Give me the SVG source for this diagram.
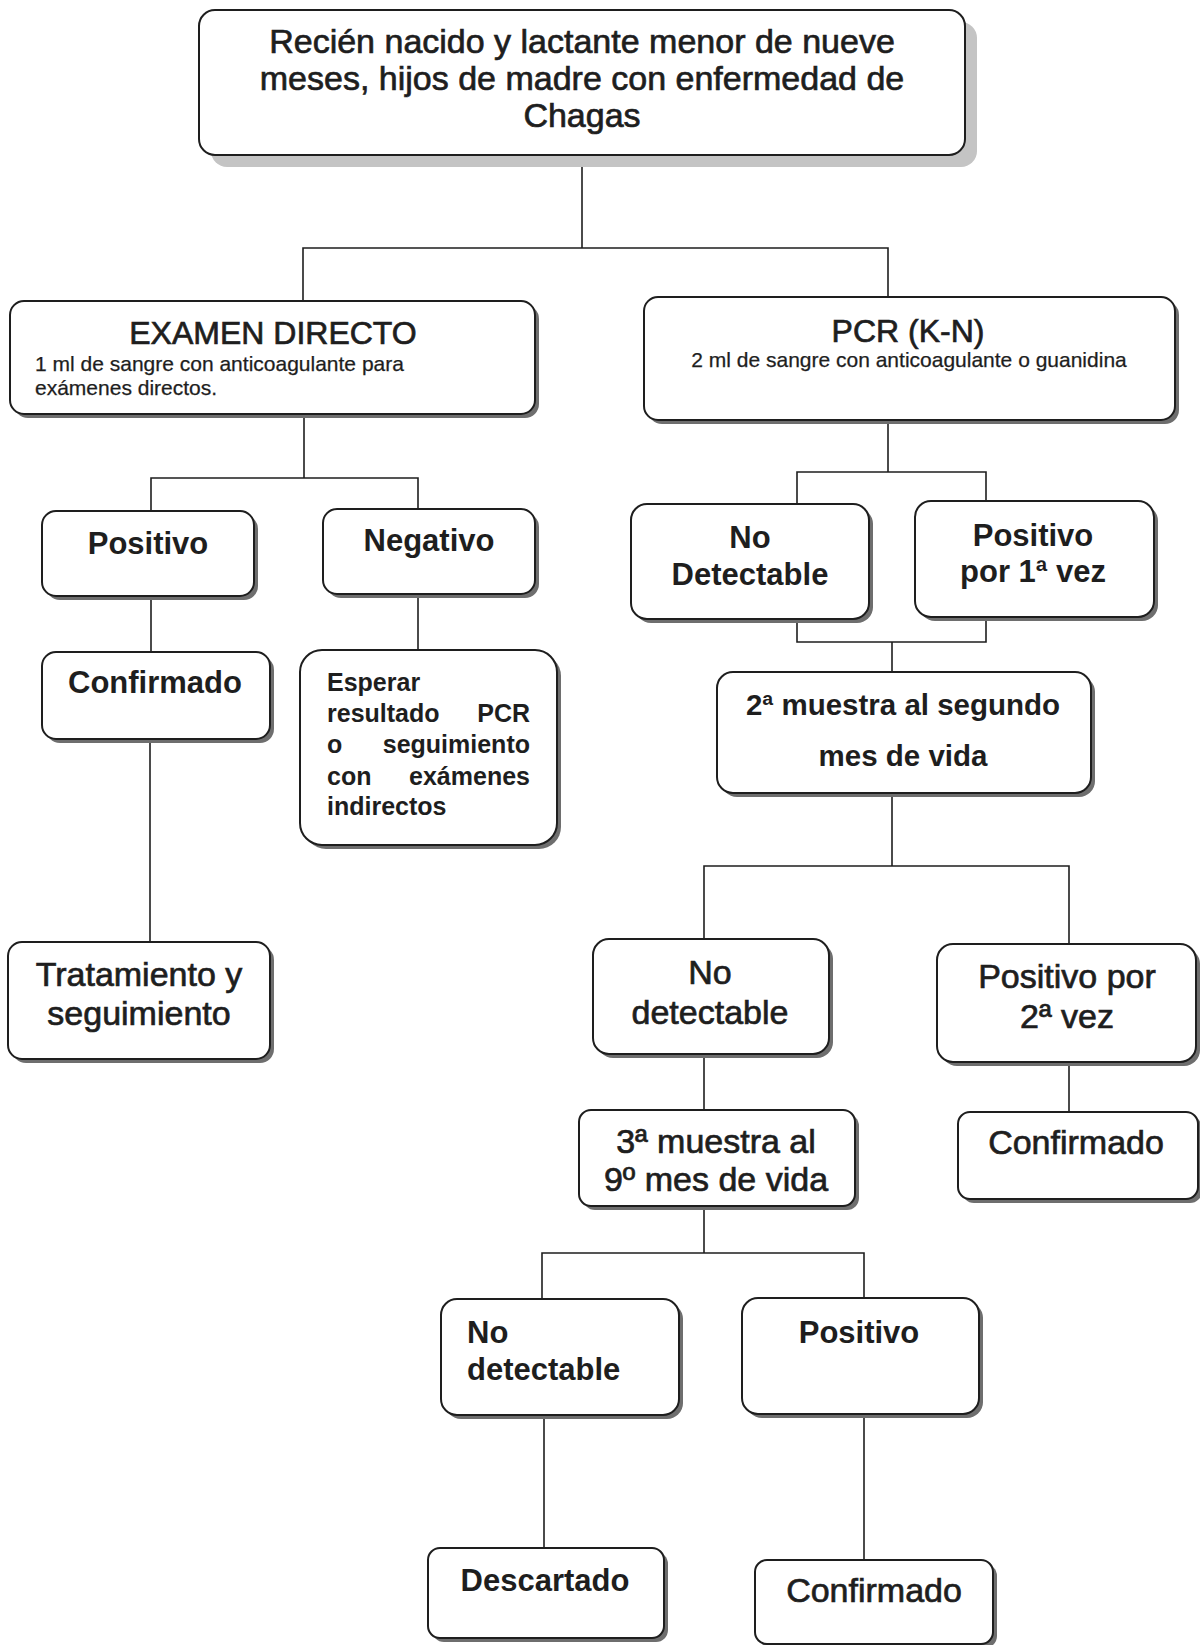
<svg xmlns="http://www.w3.org/2000/svg" width="1200" height="1645" viewBox="0 0 1200 1645">
<style>
.bg{fill:#ffffff}
.box{fill:#ffffff;stroke:#1e1e1e;stroke-width:2}
.sh{fill:#6e6e6e}
.shl{fill:#c4c4c4}
.conn line,.conn polyline{stroke:#1e1e1e;stroke-width:1.6;fill:none}
text{font-family:"Liberation Sans",Arial,sans-serif;fill:#1e1e1e}
.r{font-size:34px;stroke:#1e1e1e;stroke-width:0.7}
.b{font-size:31px;font-weight:bold}
.b2{font-size:29.5px;font-weight:bold}
.s{font-size:21px;stroke:#1e1e1e;stroke-width:0.25}
.m{font-size:32px;stroke:#1e1e1e;stroke-width:0.7}
.e{font-size:25px;font-weight:bold}
.c{text-anchor:middle}
.end{text-anchor:end}
</style>
<rect class="bg" x="0" y="0" width="1200" height="1645"/>

<g id="connectors" class="conn">
  <line x1="582" y1="155" x2="582" y2="248"/>
  <polyline points="303,301 303,248 888,248 888,297"/>
  <line x1="304" y1="416" x2="304" y2="478"/>
  <polyline points="151,511 151,478 418,478 418,509"/>
  <line x1="151" y1="596" x2="151" y2="652"/>
  <line x1="418" y1="594" x2="418" y2="650"/>
  <line x1="150" y1="739" x2="150" y2="942"/>
  <line x1="888" y1="420" x2="888" y2="472"/>
  <polyline points="797,504 797,472 986,472 986,501"/>
  <polyline points="797,619 797,642 986,642 986,617"/>
  <line x1="892" y1="642" x2="892" y2="672"/>
  <line x1="892" y1="793" x2="892" y2="866"/>
  <polyline points="704,939 704,866 1069,866 1069,944"/>
  <line x1="704" y1="1054" x2="704" y2="1110"/>
  <line x1="1069" y1="1062" x2="1069" y2="1112"/>
  <line x1="704" y1="1206" x2="704" y2="1253"/>
  <polyline points="542,1299 542,1253 864,1253 864,1297"/>
  <line x1="544" y1="1415" x2="544" y2="1548"/>
  <line x1="864" y1="1414" x2="864" y2="1560"/>
</g>

<g id="n-root">
  <rect class="shl" x="211" y="22" width="766" height="145" rx="16"/>
  <rect class="box" x="199" y="10" width="766" height="145" rx="16"/>
  <text class="r c" x="582" y="53">Recién nacido y lactante menor de nueve</text>
  <text class="r c" x="582" y="90">meses, hijos de madre con enfermedad de</text>
  <text class="r c" x="582" y="127">Chagas</text>
</g>

<g id="n-examen">
  <rect class="sh" x="14" y="305" width="525" height="113" rx="14"/>
  <rect class="box" x="10" y="301" width="525" height="113" rx="14"/>
  <text class="m c" x="273" y="344">EXAMEN DIRECTO</text>
  <text class="s" x="35" y="371">1 ml de sangre con anticoagulante para</text>
  <text class="s" x="35" y="395">exámenes directos.</text>
</g>

<g id="n-pcr">
  <rect class="sh" x="648" y="301" width="531" height="123" rx="14"/>
  <rect class="box" x="644" y="297" width="531" height="123" rx="14"/>
  <text class="m c" x="908" y="342">PCR (K-N)</text>
  <text class="s c" x="909" y="367">2 ml de sangre con anticoagulante o guanidina</text>
</g>

<g id="n-positivo1">
  <rect class="sh" x="46" y="515" width="212" height="85" rx="14"/>
  <rect class="box" x="42" y="511" width="212" height="85" rx="14"/>
  <text class="b c" x="148" y="554">Positivo</text>
</g>

<g id="n-negativo">
  <rect class="sh" x="327" y="513" width="212" height="85" rx="14"/>
  <rect class="box" x="323" y="509" width="212" height="85" rx="14"/>
  <text class="b c" x="429" y="551">Negativo</text>
</g>

<g id="n-confirmado1">
  <rect class="sh" x="46" y="656" width="228" height="87" rx="14"/>
  <rect class="box" x="42" y="652" width="228" height="87" rx="14"/>
  <text class="b c" x="155" y="693">Confirmado</text>
</g>

<g id="n-esperar">
  <rect class="sh" x="304" y="654" width="257" height="195" rx="22"/>
  <rect class="box" x="300" y="650" width="257" height="195" rx="22"/>
  <text class="e" x="327" y="691">Esperar</text>
  <text class="e" x="327" y="722">resultado</text>
  <text class="e end" x="530" y="722">PCR</text>
  <text class="e" x="327" y="753">o</text>
  <text class="e end" x="530" y="753">seguimiento</text>
  <text class="e" x="327" y="785">con</text>
  <text class="e end" x="530" y="785">exámenes</text>
  <text class="e" x="327" y="815">indirectos</text>
</g>

<g id="n-tratamiento">
  <rect class="sh" x="12" y="946" width="262" height="117" rx="14"/>
  <rect class="box" x="8" y="942" width="262" height="117" rx="14"/>
  <text class="r c" x="139" y="986">Tratamiento y</text>
  <text class="r c" x="139" y="1025">seguimiento</text>
</g>

<g id="n-nodetectable1">
  <rect class="sh" x="635" y="508" width="238" height="115" rx="16"/>
  <rect class="box" x="631" y="504" width="238" height="115" rx="16"/>
  <text class="b c" x="750" y="548">No</text>
  <text class="b c" x="750" y="585">Detectable</text>
</g>

<g id="n-positivo1vez">
  <rect class="sh" x="919" y="505" width="239" height="116" rx="16"/>
  <rect class="box" x="915" y="501" width="239" height="116" rx="16"/>
  <text class="b c" x="1033" y="546">Positivo</text>
  <text class="b c" x="1033" y="582">por 1ª vez</text>
</g>

<g id="n-muestra2">
  <rect class="sh" x="721" y="676" width="374" height="121" rx="16"/>
  <rect class="box" x="717" y="672" width="374" height="121" rx="16"/>
  <text class="b2 c" x="903" y="715">2ª muestra al segundo</text>
  <text class="b2 c" x="903" y="766">mes de vida</text>
</g>

<g id="n-nodetectable2">
  <rect class="sh" x="597" y="943" width="236" height="115" rx="16"/>
  <rect class="box" x="593" y="939" width="236" height="115" rx="16"/>
  <text class="r c" x="710" y="984">No</text>
  <text class="r c" x="710" y="1024">detectable</text>
</g>

<g id="n-positivo2vez">
  <rect class="sh" x="941" y="948" width="259" height="118" rx="16"/>
  <rect class="box" x="937" y="944" width="259" height="118" rx="16"/>
  <text class="r c" x="1067" y="988">Positivo por</text>
  <text class="r c" x="1067" y="1028">2ª vez</text>
</g>

<g id="n-muestra3">
  <rect class="sh" x="583" y="1114" width="276" height="96" rx="12"/>
  <rect class="box" x="579" y="1110" width="276" height="96" rx="12"/>
  <text class="r c" x="716" y="1153">3ª muestra al</text>
  <text class="r c" x="716" y="1191">9º mes de vida</text>
</g>

<g id="n-confirmado2">
  <rect class="sh" x="962" y="1116" width="240" height="87" rx="12"/>
  <rect class="box" x="958" y="1112" width="240" height="87" rx="12"/>
  <text class="r c" x="1076" y="1154">Confirmado</text>
</g>

<g id="n-nodetectable3">
  <rect class="sh" x="445" y="1303" width="238" height="116" rx="16"/>
  <rect class="box" x="441" y="1299" width="238" height="116" rx="16"/>
  <text class="b" x="467" y="1343">No</text>
  <text class="b" x="467" y="1380">detectable</text>
</g>

<g id="n-positivo3">
  <rect class="sh" x="746" y="1302" width="237" height="116" rx="16"/>
  <rect class="box" x="742" y="1298" width="237" height="116" rx="16"/>
  <text class="b c" x="859" y="1343">Positivo</text>
</g>

<g id="n-descartado">
  <rect class="sh" x="432" y="1552" width="236" height="90" rx="12"/>
  <rect class="box" x="428" y="1548" width="236" height="90" rx="12"/>
  <text class="b c" x="545" y="1591">Descartado</text>
</g>

<g id="n-confirmado3">
  <rect class="sh" x="759" y="1564" width="238" height="84" rx="12"/>
  <rect class="box" x="755" y="1560" width="238" height="84" rx="12"/>
  <text class="r c" x="874" y="1602">Confirmado</text>
</g>
</svg>
